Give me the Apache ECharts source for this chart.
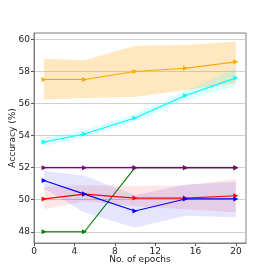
<!DOCTYPE html>
<html><head><meta charset="utf-8">
<script src="https://cdn.jsdelivr.net/npm/echarts@6/dist/echarts.min.js"></script>
<style>html,body{margin:0;padding:0;background:#fff}#c{width:273px;height:273px}</style>
</head><body><div id="c"></div>
<script>
const epochs = [1, 5, 10, 15, 20];
const xTicks = [0, 4, 8, 12, 16, 20];
const yTicks = [48, 50, 52, 54, 56, 58, 60];

const orangeMean = [57.5, 57.5, 58.0, 58.2, 58.6];
const orangeLow  = [56.25, 56.35, 56.4, 56.85, 57.25];
const orangeHigh = [58.8, 58.7, 59.6, 59.65, 59.85];

const cyanMean = [53.6, 54.1, 55.1, 56.5, 57.6];
const cyanLow  = [53.35, 53.9, 54.9, 56.2, 57.1];
const cyanHigh = [53.85, 54.35, 55.35, 56.8, 58.2];

const greenMean = [48.0, 48.0, 52.0, 52.0, 52.0];
const greenLow  = [47.95, 47.95, 51.95, 51.95, 51.95];
const greenHigh = [48.05, 48.05, 52.05, 52.05, 52.05];

const purpleMean = [52.0, 52.0, 52.0, 52.0, 52.0];
const purpleLow  = [51.9, 51.9, 51.9, 51.9, 51.9];
const purpleHigh = [52.1, 52.1, 52.1, 52.1, 52.1];

const redMean = [50.05, 50.35, 50.1, 50.1, 50.25];
const redLow  = [49.4, 49.9, 49.6, 49.4, 49.2];
const redHigh = [50.8, 50.9, 50.85, 50.9, 51.3];

const blueMean = [51.2, 50.35, 49.3, 50.05, 50.05];
const blueLow  = [50.7, 49.2, 48.25, 49.0, 48.9];
const blueHigh = [51.8, 51.5, 50.3, 50.95, 51.1];

const groups = [
  {name:'orange', color:'#FFA500', alpha:0.25, mean:orangeMean, low:orangeLow, high:orangeHigh},
  {name:'cyan', color:'#00FFFF', alpha:0.15, mean:cyanMean, low:cyanLow, high:cyanHigh},
  {name:'green', color:'#008000', alpha:0.1, mean:greenMean, low:greenLow, high:greenHigh},
  {name:'purple', color:'#800080', alpha:0.1, mean:purpleMean, low:purpleLow, high:purpleHigh},
  {name:'red', color:'#FF0000', alpha:0.1, mean:redMean, low:redLow, high:redHigh},
  {name:'blue', color:'#0000FF', alpha:0.1, mean:blueMean, low:blueLow, high:blueHigh}
];

const series = [];
groups.forEach((g) => {
  series.push({
    type:'custom', silent:true, z:1,
    data:[[epochs[0], g.low[0]]],
    renderItem: function(params, api){
      const pts = [];
      epochs.forEach((x,i)=>pts.push(api.coord([x, g.high[i]])));
      for (let i = epochs.length-1; i >= 0; i--) pts.push(api.coord([epochs[i], g.low[i]]));
      return {type:'polygon', shape:{points:pts}, style:{fill:g.color, opacity:g.alpha}};
    }
  });
});
groups.forEach((g, gi) => {
  series.push({
    type:'line', name:g.name, symbol:'triangle', symbolSize:5, symbolRotate:-90,
    z:3+gi,
    lineStyle:{color:g.color, width:1.1},
    itemStyle:{color:g.color},
    data: epochs.map((x,i)=>[x, g.mean[i]])
  });
});

const chart = echarts.init(document.getElementById('c'), null, {renderer:'canvas'});
chart.setOption({
  animation:false,
  backgroundColor:'#fff',
  grid:{left:34, right:27, top:33, bottom:30, containLabel:false, outerBoundsMode:'none', show:true, borderColor:'#808080', borderWidth:1, backgroundColor:'transparent'},
  xAxis:{
    type:'value', min:0, max:21, interval:4,
    name:'No. of epochs', nameLocation:'middle', nameGap:12, nameMoveOverlap:false,
    nameTextStyle:{fontFamily:'DejaVu Sans', fontSize:9, color:'#222', verticalAlign:'top'},
    axisLine:{show:true, lineStyle:{color:'#808080', width:1}},
    axisTick:{show:true, length:3, customValues:xTicks, lineStyle:{color:'#555'}},
    axisLabel:{customValues:xTicks, fontFamily:'DejaVu Sans', fontSize:9, color:'#222', margin:4},
    splitLine:{show:false}
  },
  yAxis:{
    type:'value', min:47.3, max:60.4,
    name:'Accuracy (%)', nameLocation:'middle', nameGap:17, nameMoveOverlap:false,
    nameTextStyle:{fontFamily:'DejaVu Sans', fontSize:9, color:'#222'},
    axisLine:{show:true, lineStyle:{color:'#808080', width:1}},
    axisTick:{show:true, length:3, customValues:yTicks, lineStyle:{color:'#555'}},
    axisLabel:{customValues:yTicks, fontFamily:'DejaVu Sans', fontSize:9, color:'#222', margin:4},
    splitLine:{show:true, lineStyle:{color:'#d0d0d0', width:1}}
  },
  series: series
});
</script></body></html>
